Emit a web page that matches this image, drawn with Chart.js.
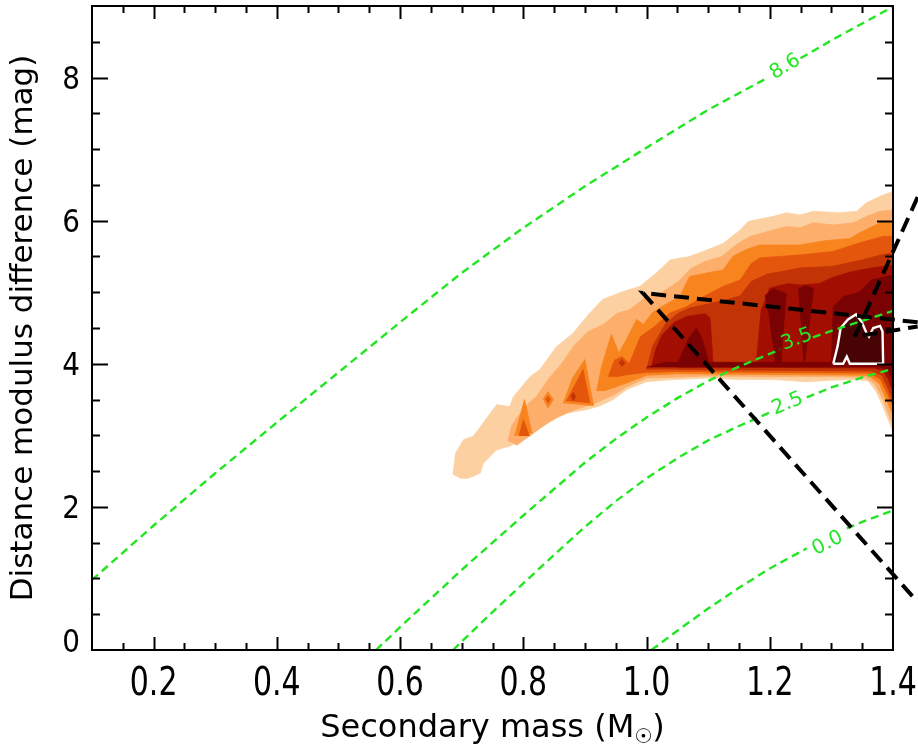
<!DOCTYPE html>
<html>
<head>
<meta charset="utf-8">
<title>Distance modulus difference vs secondary mass</title>
<script src="https://cdn.jsdelivr.net/npm/chart.js@4.4.1/dist/chart.umd.min.js"></script>
<style>
html,body{margin:0;padding:0;background:#ffffff;}
#box{position:relative;width:918px;height:745px;}
canvas{display:block;}
</style>
</head>
<body>
<div id="box"><canvas id="chart" width="918" height="745"></canvas></div>
<script>
// ---------------- axes ----------------
const xTickValues = [0.2, 0.4, 0.6, 0.8, 1.0, 1.2, 1.4];
const yTickValues = [0, 2, 4, 6, 8];
const xMinorTicks = [0.15,0.2,0.25,0.3,0.35,0.4,0.45,0.5,0.55,0.6,0.65,0.7,0.75,0.8,0.85,0.9,0.95,1.0,1.05,1.1,1.15,1.2,1.25,1.3,1.35];
const yMinorTicks = [0.5,1,1.5,2,2.5,3,3.5,4,4.5,5,5.5,6,6.5,7,7.5,8,8.5];
const xTitle = 'Secondary mass (M';
const xTitleSub = '\u2609';
const yTitle = 'Distance modulus difference (mag)';

// ---------------- filled contour levels (outer -> inner) ----------------
const levelColors = ['#fdd0a2','#fdae6b','#f8841e','#e4560c','#c23306','#a30e02','#7b0202','#480404'];

const level1 = [[0.686,2.45],[0.690,2.75],[0.703,2.94],[0.719,2.99],[0.757,3.43],[0.778,3.40],[0.784,3.54],[0.811,3.82],[0.827,3.92],[0.854,4.24],[0.880,4.42],[0.908,4.71],[0.929,4.90],[0.962,5.01],[0.989,5.08],[1.016,5.27],[1.038,5.45],[1.070,5.50],[1.098,5.59],[1.124,5.68],[1.152,5.87],[1.165,5.99],[1.206,6.06],[1.227,6.11],[1.249,6.08],[1.271,6.13],[1.314,6.11],[1.341,6.13],[1.357,6.25],[1.379,6.34],[1.400,6.41],
  [1.400,3.05],[1.393,3.20],[1.384,3.40],[1.372,3.62],[1.360,3.76],[1.340,3.78],[1.300,3.77],[1.260,3.75],[1.206,3.78],[1.152,3.78],[1.098,3.80],[1.043,3.78],[1.000,3.75],[0.968,3.64],[0.946,3.50],[0.924,3.41],[0.903,3.36],[0.870,3.31],[0.838,3.17],[0.811,2.99],[0.778,2.85],[0.757,2.80],[0.735,2.61],[0.730,2.47],[0.710,2.40],[0.697,2.40]];

const level2 = [[0.775,2.92],[0.781,3.13],[0.790,3.25],[0.805,3.42],[0.822,3.55],[0.840,3.78],[0.862,4.00],[0.882,4.25],[0.905,4.45],[0.930,4.55],[0.951,4.70],[0.973,4.76],[0.997,4.92],[1.025,5.00],[1.052,5.15],[1.072,5.33],[1.095,5.43],[1.122,5.50],[1.145,5.66],[1.168,5.78],[1.206,5.87],[1.227,5.92],[1.249,5.90],[1.271,5.97],[1.303,5.94],[1.336,5.97],[1.357,6.06],[1.379,6.13],[1.400,6.15],
  [1.400,3.15],[1.395,3.25],[1.384,3.50],[1.370,3.72],[1.355,3.81],[1.300,3.82],[1.200,3.82],[1.100,3.83],[1.000,3.80],[0.968,3.68],[0.946,3.56],[0.914,3.44],[0.881,3.35],[0.854,3.25],[0.827,3.10],[0.805,2.96],[0.789,2.86]];

const level3 = [[0.919,3.62],[0.927,3.96],[0.943,4.41],[0.955,4.15],[0.965,4.30],[0.984,4.62],[0.995,4.55],[1.010,4.72],[1.035,4.85],[1.054,4.94],[1.070,5.22],[1.098,5.27],[1.124,5.31],[1.140,5.50],[1.160,5.59],[1.184,5.66],[1.249,5.66],[1.290,5.72],[1.330,5.75],[1.346,5.83],[1.379,5.97],[1.400,5.98],
  [1.400,3.28],[1.392,3.45],[1.378,3.72],[1.360,3.84],[1.200,3.85],[1.050,3.86],[1.000,3.84],[0.970,3.74],[0.945,3.66],[0.930,3.62]];
const level3Spike1 = [[0.786,2.99],[0.802,3.50],[0.814,3.03]];
const level3Spike2 = [[0.832,3.50],[0.840,3.61],[0.849,3.50],[0.840,3.38]];
const level3Spike3 = [[0.865,3.45],[0.880,3.80],[0.900,4.06],[0.914,3.41]];

const level4 = [[0.938,3.82],[0.948,4.05],[0.960,4.10],[0.972,4.00],[0.990,4.38],[1.010,4.50],[1.038,4.71],[1.065,4.80],[1.095,4.95],[1.124,5.08],[1.152,5.17],[1.170,5.40],[1.184,5.48],[1.249,5.52],[1.303,5.57],[1.346,5.69],[1.384,5.78],[1.400,5.78],
  [1.400,3.40],[1.392,3.56],[1.380,3.78],[1.362,3.87],[1.200,3.88],[1.050,3.89],[1.000,3.88],[0.970,3.85],[0.950,3.82]];
const level4Spot1 = [[0.793,2.99],[0.800,3.22],[0.810,2.99]];
const level4Spot2 = [[0.836,3.50],[0.840,3.55],[0.844,3.50],[0.840,3.45]];
const level4Spot3 = [[0.870,3.48],[0.897,3.92],[0.908,3.45]];

const level5 = [[1.000,3.92],[1.010,4.25],[1.030,4.55],[1.050,4.70],[1.070,4.78],[1.124,4.88],[1.152,4.95],[1.170,5.15],[1.195,5.25],[1.250,5.34],[1.300,5.36],[1.350,5.45],[1.380,5.52],[1.400,5.55],
  [1.400,3.48],[1.392,3.66],[1.382,3.84],[1.365,3.90],[1.200,3.91],[1.050,3.92]];
const level5Dot1 = [[0.877,3.54],[0.881,3.60],[0.885,3.54],[0.881,3.48]];
const level5Dot2 = [[0.955,4.01],[0.960,4.06],[0.965,4.01],[0.960,3.96]];

const level6 = [[1.008,3.95],[1.015,4.20],[1.025,4.40],[1.045,4.58],[1.065,4.66],[1.095,4.70],[1.103,4.64],[1.108,4.00],[1.178,4.00],[1.186,4.75],[1.200,5.06],[1.230,5.12],[1.250,5.10],[1.280,5.12],[1.300,5.20],[1.330,5.28],[1.360,5.33],[1.400,5.38],
  [1.400,3.60],[1.393,3.78],[1.384,3.90],[1.370,3.94],[1.200,3.95],[1.050,3.95]];

const level7Tent = [[1.049,3.97],[1.068,4.35],[1.081,4.50],[1.090,4.35],[1.103,3.97]];
const level7Ridge = [[1.000,3.95],[1.030,4.02],[1.380,4.02],[1.388,3.95]];
const level7ColA = [[1.192,4.95],[1.205,5.05],[1.227,4.98],[1.222,4.50],[1.218,3.97],[1.210,3.97],[1.200,4.60]];
const level7ColB = [[1.246,5.05],[1.258,5.09],[1.271,5.05],[1.262,4.40],[1.256,3.97],[1.252,4.40]];
const level7Right = [[1.300,3.97],[1.303,4.80],[1.320,4.94],[1.345,5.00],[1.365,5.17],[1.400,5.24],[1.400,3.78],[1.390,3.92],[1.375,3.97]];

const whiteContour = [[1.303,4.00],[1.310,4.24],[1.315,4.50],[1.327,4.62],[1.340,4.69],[1.349,4.59],[1.357,4.43],[1.361,4.38],[1.368,4.50],[1.379,4.53],[1.383,4.45],[1.384,4.00],[1.330,4.00],[1.325,4.10],[1.319,4.00],[1.303,4.00]];

// ---------------- green model curves (null = gap for the label) ----------------
const curve86 = [[0.1,0.98],[0.2,1.74],[0.3,2.47],[0.4,3.18],[0.5,3.88],[0.6,4.58],[0.7,5.27],[0.8,5.90],[0.9,6.48],[1.0,7.02],[1.1,7.55],[1.195,7.99],[1.223,null],[1.25,8.27],[1.3,8.52],[1.4,8.99]];
const curve35 = [[0.561,0],[0.6,0.32],[0.65,0.72],[0.7,1.12],[0.75,1.5],[0.8,1.88],[0.85,2.25],[0.9,2.62],[0.95,2.95],[1.0,3.25],[1.05,3.52],[1.1,3.76],[1.15,3.96],[1.2,4.14],[1.217,4.20],[1.244,null],[1.270,4.37],[1.3,4.46],[1.35,4.6],[1.4,4.74]];
const curve25 = [[0.686,0],[0.75,0.53],[0.8,0.93],[0.85,1.33],[0.9,1.72],[0.95,2.08],[1.0,2.4],[1.05,2.68],[1.1,2.93],[1.15,3.13],[1.2,3.32],[1.229,null],[1.26,3.53],[1.3,3.67],[1.35,3.81],[1.4,3.93]];
const curve00 = [[1.008,0],[1.05,0.27],[1.1,0.58],[1.15,0.87],[1.2,1.14],[1.26,1.42],[1.294,null],[1.325,1.70],[1.35,1.79],[1.4,1.95]];
const curveLabelText = ['8.6','3.5','2.5','0.0'];
const curveLabelX = [1.225, 1.244, 1.229, 1.294];
const curveLabelY = [8.15, 4.34, 3.44, 1.49];

// ---------------- black dashed pointer lines ----------------
const pointerA = [[1.44,4.58],[0.994,4.99],[1.44,0.67]];
const pointerB = [[1.44,6.33],[1.338,4.38],[1.44,4.52]];

const GREEN = '#22e622';
const FONT = '"DejaVu Sans", "Liberation Sans", sans-serif';

const toXY = pts => pts.map(p => ({x: p[0], y: p[1]}));
function poly(name, pts, color, order) {
  return {label: name, data: toXY(pts), fill: 'shape', backgroundColor: color, borderColor: color,
    borderWidth: 0.8, pointRadius: 0, tension: 0, order: order};
}
function curve(name, pts) {
  return {label: name, data: toXY(pts), fill: false, borderColor: GREEN, borderWidth: 2.4,
    borderDash: [8, 5], pointRadius: 0, tension: 0, spanGaps: false, order: 1};
}
function pointer(name, pts) {
  return {label: name, data: toXY(pts), fill: false, borderColor: '#000000', borderWidth: 4,
    borderDash: [15, 8], borderJoinStyle: 'miter', pointRadius: 0, tension: 0, clip: false, order: 0};
}

const datasets = [
  pointer('pointer A', pointerA),
  pointer('pointer B', pointerB),
  curve('8.6', curve86), curve('3.5', curve35), curve('2.5', curve25), curve('0.0', curve00),
  {label: 'peak contour', data: toXY(whiteContour), fill: false, borderColor: '#ffffff', borderWidth: 2.4,
    pointRadius: 0, tension: 0, order: 2},
  poly('level 8', whiteContour, levelColors[7], 3),
  poly('level 7 tent', level7Tent, levelColors[6], 4),
  poly('level 7 ridge', level7Ridge, levelColors[6], 4),
  poly('level 7 col A', level7ColA, levelColors[6], 4),
  poly('level 7 col B', level7ColB, levelColors[6], 4),
  poly('level 7 right', level7Right, levelColors[6], 4),
  poly('level 6', level6, levelColors[5], 5),
  poly('level 5 dot 1', level5Dot1, levelColors[4], 6),
  poly('level 5 dot 2', level5Dot2, levelColors[4], 6),
  poly('level 5', level5, levelColors[4], 6),
  poly('level 4 spot 1', level4Spot1, levelColors[3], 7),
  poly('level 4 spot 2', level4Spot2, levelColors[3], 7),
  poly('level 4 spot 3', level4Spot3, levelColors[3], 7),
  poly('level 4', level4, levelColors[3], 7),
  poly('level 3 spike 1', level3Spike1, levelColors[2], 8),
  poly('level 3 spike 2', level3Spike2, levelColors[2], 8),
  poly('level 3 spike 3', level3Spike3, levelColors[2], 8),
  poly('level 3', level3, levelColors[2], 8),
  poly('level 2', level2, levelColors[1], 9),
  poly('level 1', level1, levelColors[0], 10)
];

const curvesForLabels = [curve86, curve35, curve25, curve00];

const framePlugin = {
  id: 'frame',
  afterDatasetsDraw(chart) {
    const {ctx, chartArea: a, scales: {x, y}} = chart;
    ctx.save();
    // labels on the green curves
    ctx.fillStyle = GREEN;
    ctx.font = '20px ' + FONT;
    ctx.textAlign = 'center';
    ctx.textBaseline = 'middle';
    curveLabelText.forEach((t, i) => {
      const c = curvesForLabels[i];
      const g = c.findIndex(p => p[1] === null);
      const p0 = c[g - 1], p1 = c[g + 1];
      const ang = Math.atan2(y.getPixelForValue(p1[1]) - y.getPixelForValue(p0[1]),
                             x.getPixelForValue(p1[0]) - x.getPixelForValue(p0[0]));
      ctx.save();
      ctx.translate(x.getPixelForValue(curveLabelX[i]), y.getPixelForValue(curveLabelY[i]));
      ctx.rotate(ang);
      ctx.fillText(t, 0, 0);
      ctx.restore();
    });
    // box
    ctx.strokeStyle = '#000000';
    ctx.lineWidth = 2;
    ctx.strokeRect(a.left, a.top, a.right - a.left, a.bottom - a.top);
    // inward ticks on all four sides
    ctx.beginPath();
    xMinorTicks.forEach(v => {
      const px = Math.round(x.getPixelForValue(v)) + 0.5;
      const major = xTickValues.some(t => Math.abs(t - v) < 1e-6);
      const L = major ? 13 : 7;
      ctx.moveTo(px, a.bottom); ctx.lineTo(px, a.bottom - L);
      ctx.moveTo(px, a.top); ctx.lineTo(px, a.top + L);
    });
    yMinorTicks.forEach(v => {
      const py = Math.round(y.getPixelForValue(v)) + 0.5;
      const major = yTickValues.some(t => Math.abs(t - v) < 1e-6);
      const L = major ? 16 : 8;
      ctx.moveTo(a.left, py); ctx.lineTo(a.left + L, py);
      ctx.moveTo(a.right, py); ctx.lineTo(a.right - L, py);
    });
    ctx.stroke();
    ctx.restore();
  },
  afterDraw(chart) {
    const {ctx, chartArea: a, scales: {x, y}} = chart;
    ctx.save();
    ctx.fillStyle = '#000000';
    // x tick labels
    ctx.font = '30px ' + FONT;
    ctx.textAlign = 'center';
    ctx.textBaseline = 'alphabetic';
    xTickValues.forEach(v => {
      ctx.save();
      ctx.translate(x.getPixelForValue(v), a.bottom + 45);
      ctx.scale(1, 1.3);
      ctx.fillText(v.toFixed(1), 0, 0);
      ctx.restore();
    });
    // y tick labels
    ctx.font = '32px ' + FONT;
    ctx.textAlign = 'right';
    yTickValues.forEach(v => {
      const py = y.getPixelForValue(v);
      const base = Math.min(py + 11.5, a.bottom + 2);
      ctx.save();
      ctx.translate(a.left - 12, base);
      ctx.scale(0.87, 1);
      ctx.fillText(String(v), 0, 0);
      ctx.restore();
    });
    // x title with subscript sun symbol
    ctx.textAlign = 'left';
    const mainFont = '32px ' + FONT, subFont = '20px ' + FONT;
    ctx.font = mainFont; const w1 = ctx.measureText(xTitle).width; const w3 = ctx.measureText(')').width;
    ctx.font = subFont; const w2 = ctx.measureText(xTitleSub).width;
    let sx = (a.left + a.right) / 2 - (w1 + w2 + w3) / 2;
    const base = 737;
    ctx.font = mainFont; ctx.fillText(xTitle, sx, base); sx += w1;
    ctx.font = subFont; ctx.fillText(xTitleSub, sx, base + 6); sx += w2;
    ctx.font = mainFont; ctx.fillText(')', sx, base);
    // y title
    ctx.save();
    ctx.translate(32, (a.top + a.bottom) / 2);
    ctx.rotate(-Math.PI / 2);
    ctx.textAlign = 'center';
    ctx.font = '31px ' + FONT;
    ctx.fillText(yTitle, 0, 0);
    ctx.restore();
    ctx.restore();
  }
};

new Chart(document.getElementById('chart'), {
  type: 'line',
  data: {datasets: datasets},
  options: {
    responsive: false,
    animation: false,
    devicePixelRatio: 1,
    events: [],
    layout: {padding: {top: 6, right: 25, bottom: 0, left: 0}},
    plugins: {legend: {display: false}, tooltip: {enabled: false}},
    scales: {
      x: {
        type: 'linear', min: 0.1, max: 1.4,
        grid: {display: false}, border: {display: false},
        ticks: {display: false},
        afterFit: s => { s.height = 95; }
      },
      y: {
        type: 'linear', min: 0, max: 9,
        grid: {display: false}, border: {display: false},
        ticks: {display: false},
        afterFit: s => { s.width = 92; }
      }
    }
  },
  plugins: [framePlugin]
});
</script>
</body>
</html>
